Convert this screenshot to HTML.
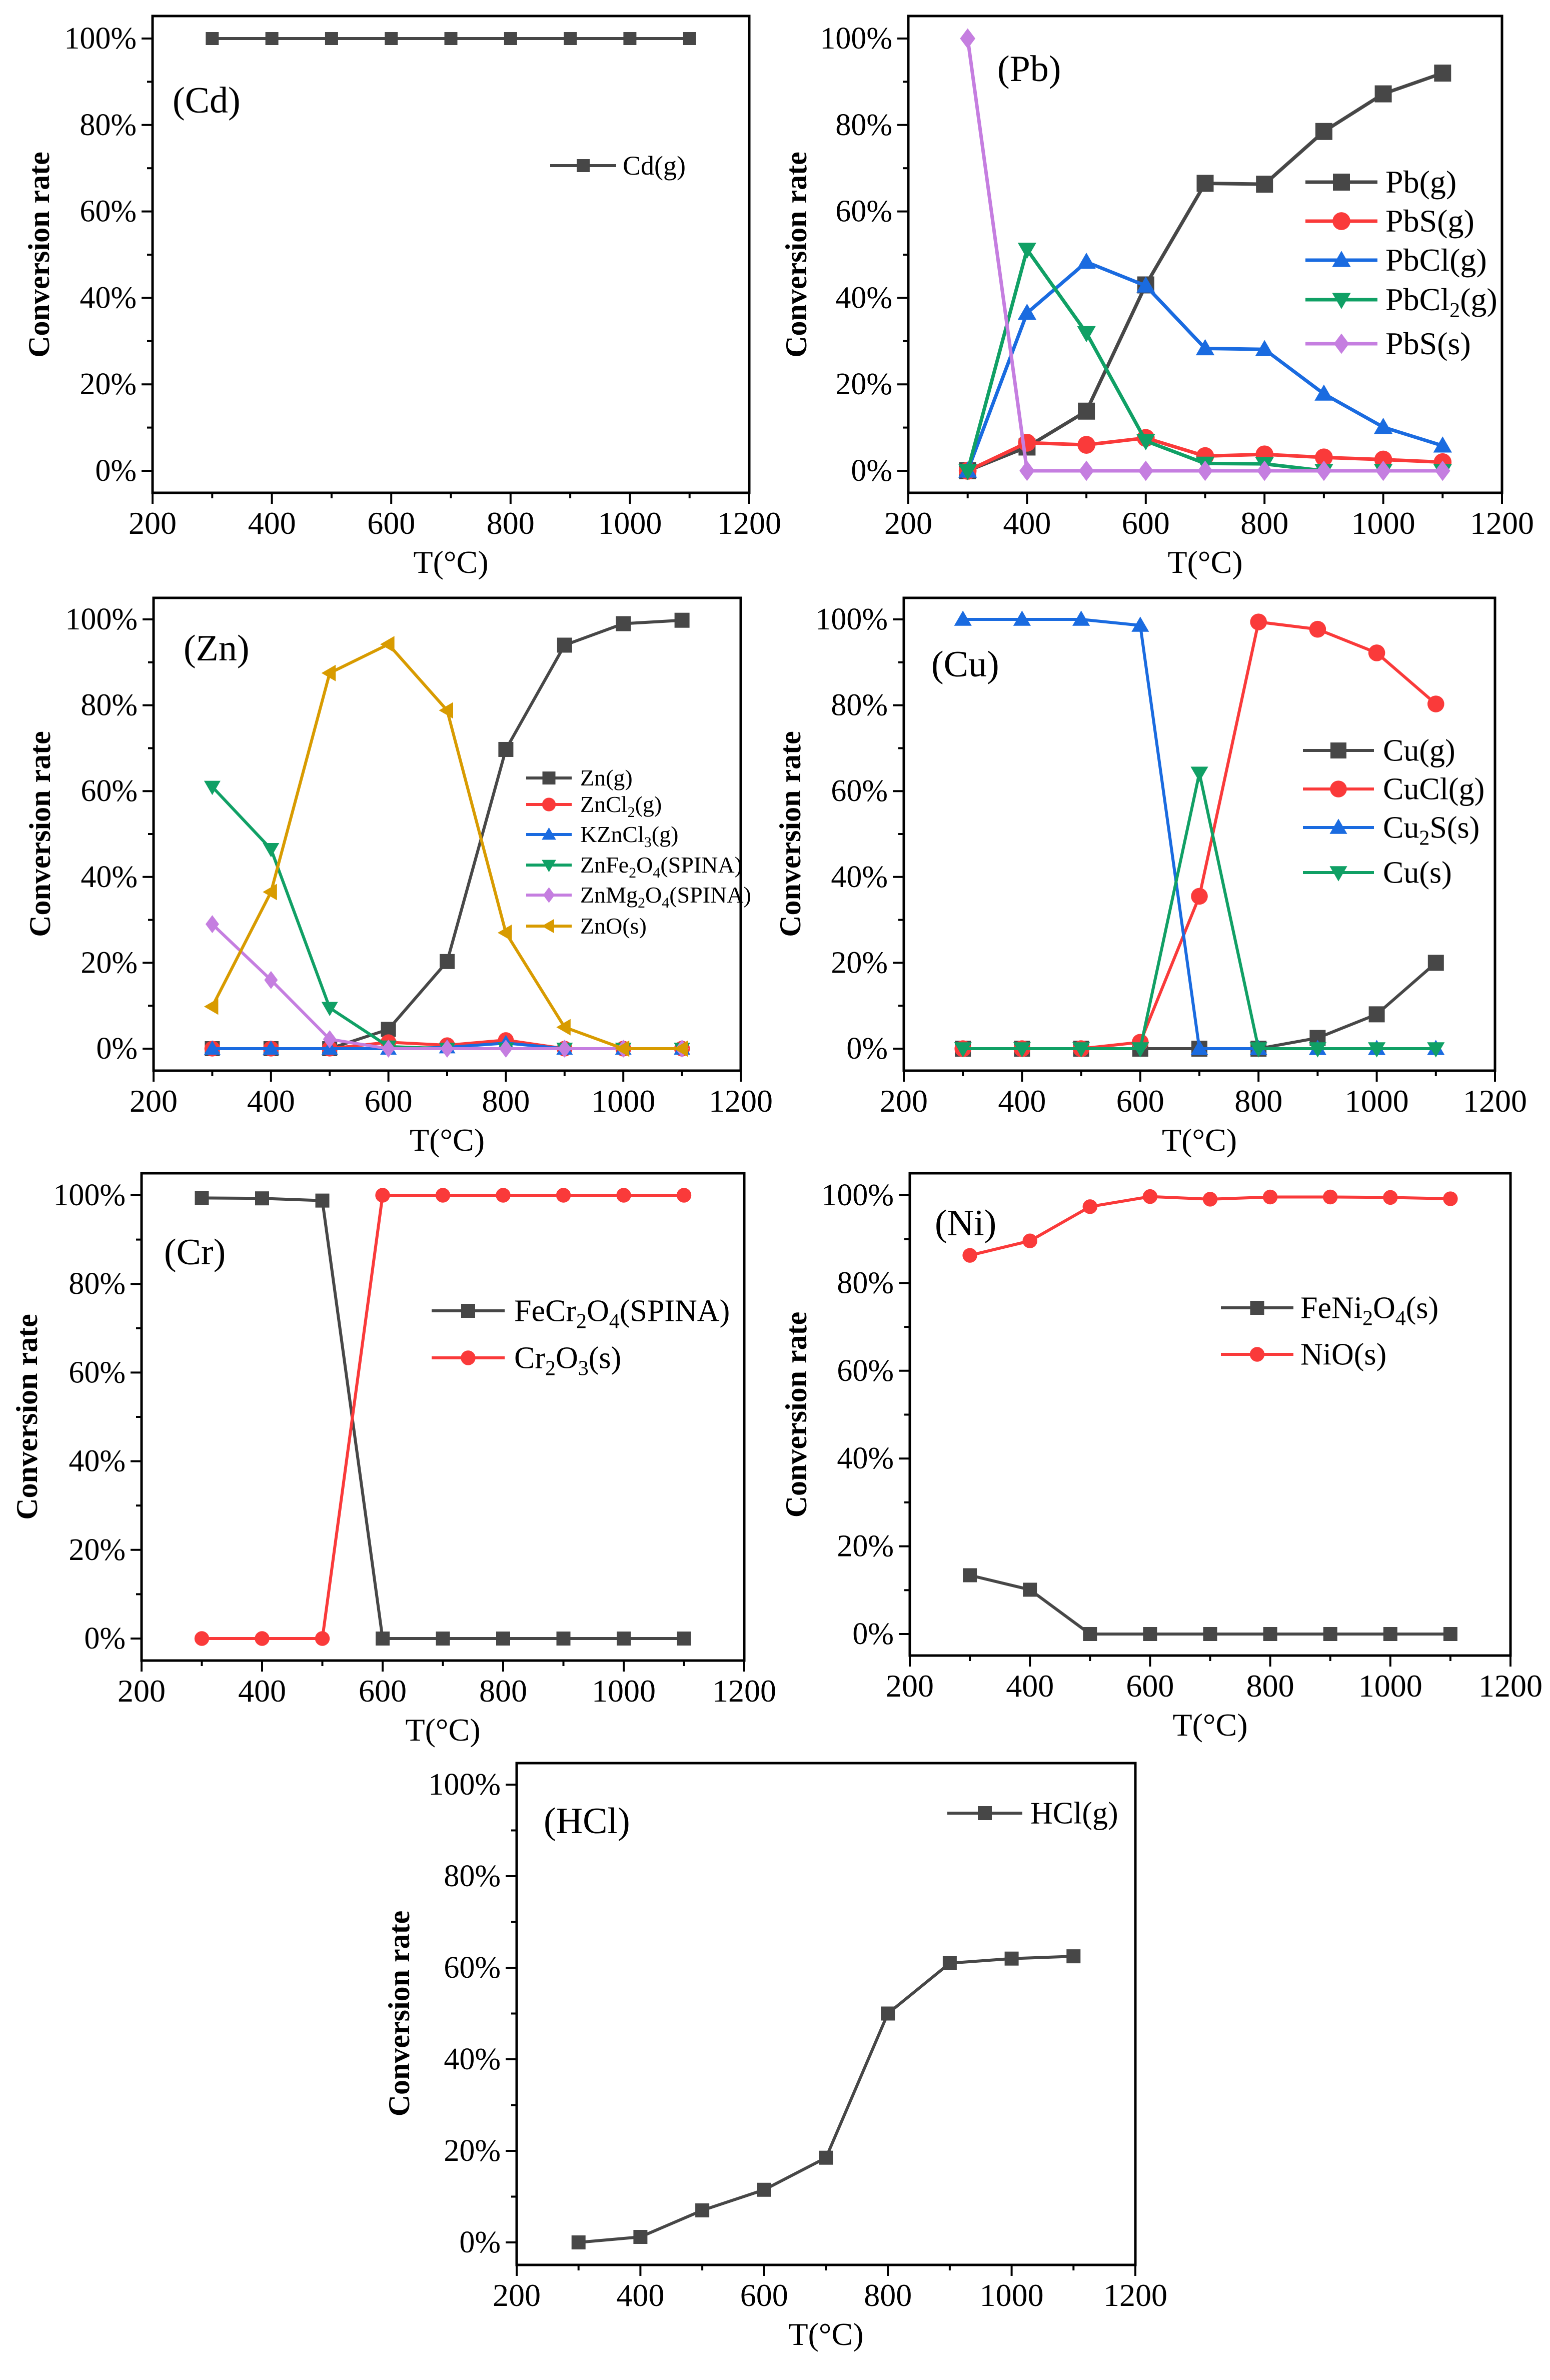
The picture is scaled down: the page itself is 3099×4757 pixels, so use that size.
<!DOCTYPE html>
<html><head><meta charset="utf-8"><style>
html,body{margin:0;padding:0;background:#fff;}
svg{display:block;font-family:"Liberation Serif","DejaVu Serif",serif;}
</style></head><body>
<svg id="fig" width="3099" height="4757" viewBox="0 0 3099 4757" xmlns="http://www.w3.org/2000/svg"></svg>
<script>
const temps = [300,400,500,600,700,800,900,1000,1100];
const xTicks = [200,400,600,800,1000,1200];
const yTicks = [0,20,40,60,80,100];
const yTickLabels = ["0%","20%","40%","60%","80%","100%"];

const cdGas = [100,100,100,100,100,100,100,100,100];

const pbGas = [0,5.5,13.8,43,66.5,66.3,78.5,87.2,92];
const pbSGas = [0,6.5,6,7.6,3.4,3.8,3.1,2.6,2];
const pbClGas = [0,36.5,48.3,42.8,28.3,28.1,17.8,10.1,5.8];
const pbCl2Gas = [0,51.2,31.9,6.9,1.7,1.6,0,0,0];
const pbSSolid = [100,0,0,0,0,0,0,0,0];

const znGas = [0,0,0,4.5,20.3,69.7,94,99,99.8];
const znCl2Gas = [0,0,0,1.5,0.8,2,0,0,0];
const kznCl3Gas = [0,0,0,0,0.3,1.3,0,0,0];
const znFe2O4 = [61,46.5,9.5,0.5,0,0,0,0,0];
const znMg2O4 = [29,16,2.2,0,0,0,0,0,0];
const znOSolid = [9.8,36.5,87.5,94.2,78.8,27,5,0,0];

const cuGas = [0,0,0,0,0,0,2.5,8,20];
const cuClGas = [0,0,0,1.5,35.5,99.4,97.7,92.2,80.3];
const cu2SSolid = [100,100,100,98.6,0,0,0,0,0];
const cuSolid = [0,0,0,0,64.2,0,0,0,0];

const feCr2O4 = [99.4,99.3,98.8,0,0,0,0,0,0];
const cr2O3 = [0,0,0,100,100,100,100,100,100];

const feNi2O4 = [13.4,10.1,0,0,0,0,0,0,0];
const niOSolid = [86.3,89.6,97.4,99.7,99.1,99.6,99.6,99.5,99.2];

const hclGas = [0,1.2,7,11.5,18.5,50,61,62,62.5];

const C = {gray:'#474747',red:'#fa3a3a',blue:'#1a6be0',green:'#10a065',purple:'#c57ee0',gold:'#d89b00'};
const NS='http://www.w3.org/2000/svg';
const svg=document.getElementById('fig');
function mk(tag,attrs,parent){const e=document.createElementNS(NS,tag);for(const k in attrs)e.setAttribute(k,attrs[k]);(parent||svg).appendChild(e);return e;}

function marker(g,shape,x,y,s,color){
  const h=s/2;let e;
  if(shape==='square')e=mk('rect',{x:x-h,y:y-h,width:s,height:s,fill:color},g);
  else if(shape==='circle')e=mk('circle',{cx:x,cy:y,r:h*1.05,fill:color},g);
  else if(shape==='up')e=mk('polygon',{points:`${x},${y-h*1.1} ${x+h*1.1},${y+h*0.8} ${x-h*1.1},${y+h*0.8}`,fill:color},g);
  else if(shape==='down')e=mk('polygon',{points:`${x},${y+h*1.1} ${x+h*1.1},${y-h*0.8} ${x-h*1.1},${y-h*0.8}`,fill:color},g);
  else if(shape==='diamond')e=mk('polygon',{points:`${x},${y-h*1.2} ${x+h*0.9},${y} ${x},${y+h*1.2} ${x-h*0.9},${y}`,fill:color},g);
  else if(shape==='left')e=mk('polygon',{points:`${x-h*1.1},${y} ${x+h*0.8},${y-h*1.1} ${x+h*0.8},${y+h*1.1}`,fill:color},g);
  
  
  return e;
}

function panel(p){
  const g=mk('g',{});
  
  
  const sx=v=>p.left+(v-200)/1000*(p.right-p.left);
  const sy=v=>p.y0+(p.y100-p.y0)*v/100;
  // frame
  const fr=mk('rect',{x:p.left,y:p.top,width:p.right-p.left,height:p.bottom-p.top,fill:'none',stroke:'#000','stroke-width':5},g);
  
  
  // x ticks
  for(let v=200;v<=1200;v+=100){
    const major=xTicks.includes(v);
    const t=mk('line',{x1:sx(v),x2:sx(v),y1:p.bottom,y2:p.bottom+(major?22:11),stroke:'#000','stroke-width':4},g);
    
    
  }
  xTicks.forEach(v=>{
    const t=mk('text',{x:sx(v),y:p.bottom+82,'font-size':64,'text-anchor':'middle',fill:'#000'},g);
    t.textContent=v;
    
    
  });
  for(let v=0;v<=100;v+=10){
    const major=yTicks.includes(v);
    const t=mk('line',{x1:p.left,x2:p.left-(major?22:11),y1:sy(v),y2:sy(v),stroke:'#000','stroke-width':4},g);
    
    
  }
  yTicks.forEach((v,i)=>{
    const t=mk('text',{x:p.left-32,y:sy(v)+20,'font-size':62,'text-anchor':'end',fill:'#000'},g);
    t.textContent=yTickLabels[i];
    
    
  });
  const xt=mk('text',{x:(p.left+p.right)/2,y:p.bottom+160,'font-size':64,'text-anchor':'middle',fill:'#000'},g);
  xt.textContent='T(°C)';
  
  
  const ym=(sy(0)+sy(100))/2;
  const yt=mk('text',{x:p.ylx,y:ym,'font-size':60,'font-weight':'bold','text-anchor':'middle',transform:`rotate(-90 ${p.ylx} ${ym})`,fill:'#000'},g);
  yt.textContent='Conversion rate';
  
  
  const pl=mk('text',{x:p.lab[0],y:p.lab[1],'font-size':74,fill:'#000'},g);
  pl.textContent=p.label;
  
  
  // series
  p.series.forEach(s=>{
    const sg=mk('g',{},g);
    
    
    const pts=temps.map((t,i)=>sx(t)+','+sy(s.data[i])).join(' ');
    const ln=mk('polyline',{points:pts,fill:'none',stroke:s.color,'stroke-width':p.lw,'stroke-linejoin':'round'},sg);
    
    
    temps.forEach((t,i)=>marker(sg,s.shape,sx(t),sy(s.data[i]),p.ms,s.color));
  });
  // legend
  const lg=mk('g',{},g);
  
  
  p.series.forEach((s,i)=>{
    const y=p.leg.ys[i];
    const eg=mk('g',{},lg);
    
    
    mk('line',{x1:p.leg.x1,x2:p.leg.x2,y1:y,y2:y,stroke:s.color,'stroke-width':p.lw},eg);
    marker(eg,s.shape,(p.leg.x1+p.leg.x2)/2,y,p.leg.ms||p.ms,s.color);
    const tx=mk('text',{x:p.leg.tx,y:y+p.leg.fs*0.33,'font-size':p.leg.fs,fill:'#000'},eg);
    tx.innerHTML=s.label;
  });
}
const sub=(t)=>`<tspan dy="12" font-size="70%">${t}</tspan><tspan dy="-12">`;
function L(parts){return parts;}

panel({name:'cd',label:'(Cd)',left:305,right:1498,top:32,bottom:985,y100:77,y0:941,ylx:98,lab:[345,225],lw:6,ms:26,
  leg:{x1:1100,x2:1232,tx:1245,fs:54,ys:[331]},
  series:[{key:'cd-g',label:'Cd(g)',data:cdGas,color:C.gray,shape:'square'}]});

panel({name:'pb',label:'(Pb)',left:1816,right:3003,top:32,bottom:985,y100:77,y0:941,ylx:1612,lab:[1994,162],lw:7,ms:34,
  leg:{x1:2610,x2:2754,tx:2770,fs:64,ys:[364,442,520,599,687]},
  series:[
   {key:'pb-g',label:'Pb(g)',data:pbGas,color:C.gray,shape:'square'},
   {key:'pbs-g',label:'PbS(g)',data:pbSGas,color:C.red,shape:'circle'},
   {key:'pbcl-g',label:'PbCl(g)',data:pbClGas,color:C.blue,shape:'up'},
   {key:'pbcl2-g',label:'PbCl<tspan dy="14" font-size="42">2</tspan><tspan dy="-14">(g)</tspan>',data:pbCl2Gas,color:C.green,shape:'down'},
   {key:'pbs-s',label:'PbS(s)',data:pbSSolid,color:C.purple,shape:'diamond'}]});

panel({name:'zn',label:'(Zn)',left:307,right:1481,top:1195,bottom:2140,y100:1238,y0:2096,ylx:100,lab:[367,1320],lw:6,ms:30,
  leg:{x1:1052,x2:1143,tx:1160,fs:46,ys:[1555,1608,1668,1729,1789,1851],ms:26},
  series:[
   {key:'zn-g',label:'Zn(g)',data:znGas,color:C.gray,shape:'square'},
   {key:'zncl2-g',label:'ZnCl<tspan dy="10" font-size="30">2</tspan><tspan dy="-10">(g)</tspan>',data:znCl2Gas,color:C.red,shape:'circle'},
   {key:'kzncl3-g',label:'KZnCl<tspan dy="10" font-size="30">3</tspan><tspan dy="-10">(g)</tspan>',data:kznCl3Gas,color:C.blue,shape:'up'},
   {key:'znfe2o4',label:'ZnFe<tspan dy="10" font-size="30">2</tspan><tspan dy="-10">O</tspan><tspan dy="10" font-size="30">4</tspan><tspan dy="-10">(SPINA)</tspan>',data:znFe2O4,color:C.green,shape:'down'},
   {key:'znmg2o4',label:'ZnMg<tspan dy="10" font-size="30">2</tspan><tspan dy="-10">O</tspan><tspan dy="10" font-size="30">4</tspan><tspan dy="-10">(SPINA)</tspan>',data:znMg2O4,color:C.purple,shape:'diamond'},
   {key:'zno-s',label:'ZnO(s)',data:znOSolid,color:C.gold,shape:'left'}]});

panel({name:'cu',label:'(Cu)',left:1807,right:2989,top:1195,bottom:2140,y100:1238,y0:2096,ylx:1600,lab:[1862,1352],lw:6,ms:32,
  leg:{x1:2605,x2:2747,tx:2765,fs:62,ys:[1500,1577,1654,1744]},
  series:[
   {key:'cu-g',label:'Cu(g)',data:cuGas,color:C.gray,shape:'square'},
   {key:'cucl-g',label:'CuCl(g)',data:cuClGas,color:C.red,shape:'circle'},
   {key:'cu2s-s',label:'Cu<tspan dy="14" font-size="42">2</tspan><tspan dy="-14">S(s)</tspan>',data:cu2SSolid,color:C.blue,shape:'up'},
   {key:'cu-s',label:'Cu(s)',data:cuSolid,color:C.green,shape:'down'}]});

panel({name:'cr',label:'(Cr)',left:283,right:1488,top:2345,bottom:3319,y100:2389,y0:3275,ylx:74,lab:[328,2527],lw:6,ms:28,
  leg:{x1:863,x2:1009,tx:1028,fs:62,ys:[2620,2714]},
  series:[
   {key:'fecr2o4',label:'FeCr<tspan dy="14" font-size="42">2</tspan><tspan dy="-14">O</tspan><tspan dy="14" font-size="42">4</tspan><tspan dy="-14">(SPINA)</tspan>',data:feCr2O4,color:C.gray,shape:'square'},
   {key:'cr2o3',label:'Cr<tspan dy="14" font-size="42">2</tspan><tspan dy="-14">O</tspan><tspan dy="14" font-size="42">3</tspan><tspan dy="-14">(s)</tspan>',data:cr2O3,color:C.red,shape:'circle'}]});

panel({name:'ni',label:'(Ni)',left:1819,right:3020,top:2345,bottom:3309,y100:2389,y0:3266,ylx:1612,lab:[1869,2469],lw:6,ms:28,
  leg:{x1:2441,x2:2586,tx:2600,fs:62,ys:[2614,2707]},
  series:[
   {key:'feni2o4',label:'FeNi<tspan dy="14" font-size="42">2</tspan><tspan dy="-14">O</tspan><tspan dy="14" font-size="42">4</tspan><tspan dy="-14">(s)</tspan>',data:feNi2O4,color:C.gray,shape:'square'},
   {key:'nio-s',label:'NiO(s)',data:niOSolid,color:C.red,shape:'circle'}]});

panel({name:'hcl',label:'(HCl)',left:1033,right:2270,top:3524,bottom:4527,y100:3567,y0:4482,ylx:818,lab:[1087,3664],lw:6,ms:28,
  leg:{x1:1894,x2:2044,tx:2060,fs:62,ys:[3624]},
  series:[{key:'hcl-g',label:'HCl(g)',data:hclGas,color:C.gray,shape:'square'}]});
</script>
</body></html>
